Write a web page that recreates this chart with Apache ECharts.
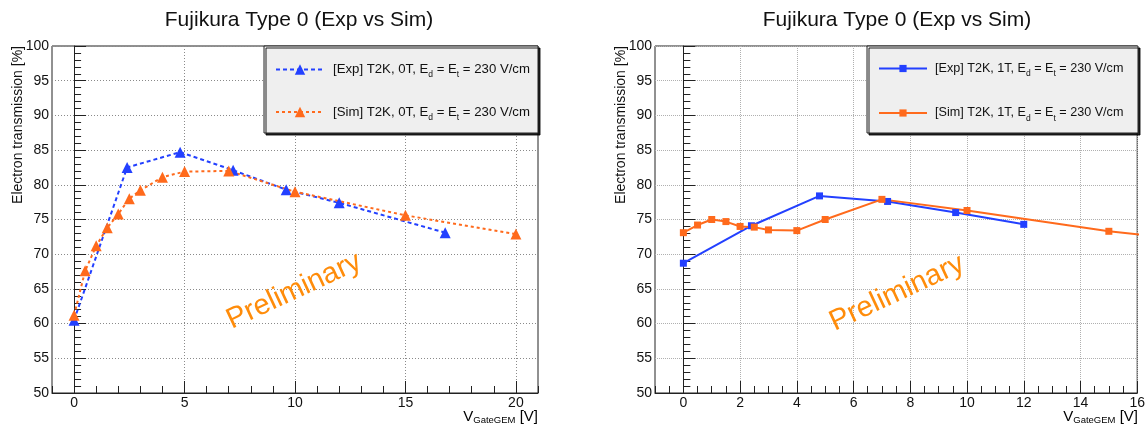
<!DOCTYPE html>
<html>
<head>
<meta charset="utf-8">
<script src="https://cdn.jsdelivr.net/npm/echarts@6/dist/echarts.min.js"></script>
<style>html,body{margin:0;padding:0;background:#fff}#c{width:1148px;height:425px}</style>
</head>
<body>
<div id="c"></div>
<script>
// ---- data ----
const titleText = 'Fujikura Type 0 (Exp vs Sim)';
const leftExpName = '[Exp] T2K, 0T, E_d = E_t = 230 V/cm';
const leftSimName = '[Sim] T2K, 0T, E_d = E_t = 230 V/cm';
const rightExpName = '[Exp] T2K, 1T, E_d = E_t = 230 V/cm';
const rightSimName = '[Sim] T2K, 1T, E_d = E_t = 230 V/cm';

const leftExpX = [0, 2.4, 4.8, 7.2, 9.6, 12, 16.8];
const leftExpY = [60.5, 82.5, 84.7, 82.1, 79.3, 77.4, 73.1];
const leftSimX = [0, 0.5, 1, 1.5, 2, 2.5, 3, 4, 5, 7, 10, 15, 20];
const leftSimY = [61.2, 67.6, 71.2, 73.8, 75.8, 78.0, 79.2, 81.1, 81.9, 82.0, 79.0, 75.6, 72.9];

const rightExpX = [0, 2.4, 4.8, 7.2, 9.6, 12];
const rightExpY = [68.7, 74.1, 78.4, 77.6, 76.0, 74.3];
const rightSimX = [0, 0.5, 1, 1.5, 2, 2.5, 3, 4, 5, 7, 10, 15, 20];
const rightSimY = [73.1, 74.2, 75.0, 74.7, 74.0, 73.9, 73.5, 73.4, 75.0, 77.9, 76.3, 73.3, 71.1];

const leftMajorX = [0, 5, 10, 15, 20];
const rightMajorX = [0, 2, 4, 6, 8, 10, 12, 14, 16];
const yMin = 50, yMax = 100, yStep = 5;
const leftXRange = [-1, 21];
const rightXRange = [-1, 16];

// ---- styling ----
const FONT = '"Liberation Sans", Arial, Helvetica, sans-serif';
const BLUE = '#2340ff';
const ORANGE = '#ff6a1c';
const PRELIM = '#ff8c0a';

function pairs(xs, ys) { return xs.map((x, i) => [x, ys[i]]); }

function legendFmt(name) {
  const parts = name.split('E_d = E_t');
  return '{a|' + parts[0] + 'E}{s|d}{a| = E}{s|t}{a|' + parts[1] + '}';
}
function legendRich(size) {
  return {
    a: { fontSize: size, color: '#111', fontFamily: FONT, lineHeight: 20 },
    s: { fontSize: 8.5, color: '#111', fontFamily: FONT, lineHeight: 20, verticalAlign: 'bottom' }
  };
}

function dataAxis(gridIndex, range, interval) {
  return {
    type: 'value', gridIndex, min: range[0], max: range[1], interval,
    position: 'bottom',
    axisLine: { show: true, lineStyle: { color: '#222', width: 1 } },
    axisTick: { show: true, inside: true, length: 7, lineStyle: { color: '#222' } },
    axisLabel: { show: false },
    splitLine: { show: false }
  };
}
function majorAxis(gridIndex, range, majors, gridColor, dash) {
  return {
    type: 'value', gridIndex, min: range[0], max: range[1], interval: 1,
    position: 'bottom',
    axisLine: { show: false },
    axisTick: { show: true, inside: true, length: 12, customValues: majors, lineStyle: { color: '#222' } },
    axisLabel: { show: true, customValues: majors, margin: 3, fontSize: 14, color: '#111', fontFamily: FONT },
    splitLine: { show: true, lineStyle: { color: gridColor, type: dash, width: 1 } }
  };
}
function yAxis(gridIndex, gridColor, dash) {
  return {
    type: 'value', gridIndex, min: yMin, max: yMax, interval: yStep,
    axisLine: { show: true, lineStyle: { color: '#222', width: 1 } },
    axisTick: { show: true, inside: true, length: 12, lineStyle: { color: '#222' } },
    minorTick: { show: true, splitNumber: 5, length: 7, lineStyle: { color: '#222' } },
    axisLabel: { margin: 3, fontSize: 14, color: '#111', fontFamily: FONT },
    splitLine: { show: true, lineStyle: { color: gridColor, type: dash, width: 1 } }
  };
}
function xTitle(x) {
  return { type: 'text', x: x, y: 408,
    style: { text: '{v|V}{s|GateGEM}{v| [V]}', align: 'right', verticalAlign: 'top',
      rich: { v: { fontSize: 15, fontFamily: FONT, color: '#111', lineHeight: 17 },
              s: { fontSize: 9.5, fontFamily: FONT, color: '#111', lineHeight: 17, verticalAlign: 'bottom' } } } };
}

const chart = echarts.init(document.getElementById('c'), null, { renderer: 'canvas' });
chart.setOption({
  animation: false,
  backgroundColor: '#fff',
  textStyle: { fontFamily: FONT },
  title: [
    { text: titleText, left: 294, top: 5, textAlign: 'center',
      textStyle: { fontSize: 21, fontWeight: 'normal', color: '#111', fontFamily: FONT } },
    { text: titleText, left: 892, top: 5, textAlign: 'center',
      textStyle: { fontSize: 21, fontWeight: 'normal', color: '#111', fontFamily: FONT } }
  ],
  grid: [
    { left: 52, top: 46, width: 486, height: 347, show: true, borderColor: '#222', borderWidth: 1, backgroundColor: 'transparent' },
    { left: 655, top: 46, width: 483, height: 347, show: true, borderColor: '#222', borderWidth: 1, backgroundColor: 'transparent' }
  ],
  xAxis: [
    dataAxis(0, leftXRange, 1),
    majorAxis(0, leftXRange, leftMajorX, '#8a8a8a', [1, 2]),
    dataAxis(1, rightXRange, 0.5),
    majorAxis(1, rightXRange, rightMajorX, '#b0b0b0', [1, 1])
  ],
  yAxis: [
    yAxis(0, '#8a8a8a', [1, 2]),
    yAxis(1, '#b0b0b0', [1, 1])
  ],
  legend: [
    { data: [leftExpName, leftSimName], orient: 'vertical', left: 270, top: 58,
      itemWidth: 48, itemHeight: 13, itemGap: 26, z: 10, formatter: legendFmt,
      textStyle: { rich: legendRich(13.2), padding: [0, 0, 0, 4] } },
    { data: [rightExpName, rightSimName], orient: 'vertical', left: 873, top: 57,
      itemWidth: 48, itemHeight: 9, itemGap: 28, z: 10, formatter: legendFmt,
      textStyle: { rich: legendRich(12.6), padding: [0, 0, 0, 3] } }
  ],
  graphic: [
    { type: 'rect', z: 5, shape: { x: 264, y: 46, width: 274, height: 87 },
      style: { fill: '#efefef', stroke: '#222', lineWidth: 1, shadowColor: 'rgba(0,0,0,0.85)', shadowOffsetX: 2, shadowOffsetY: 2, shadowBlur: 0 } },
    { type: 'rect', z: 5, shape: { x: 867, y: 46, width: 271, height: 87 },
      style: { fill: '#efefef', stroke: '#222', lineWidth: 1, shadowColor: 'rgba(0,0,0,0.85)', shadowOffsetX: 2, shadowOffsetY: 2, shadowBlur: 0 } },
    { type: 'text', z: 1, x: 294, y: 291, rotation: 25 * Math.PI / 180,
      style: { text: 'Preliminary', fontSize: 29, fontFamily: FONT, fill: PRELIM, align: 'center', verticalAlign: 'middle' } },
    { type: 'text', z: 1, x: 897, y: 293, rotation: 25 * Math.PI / 180,
      style: { text: 'Preliminary', fontSize: 29, fontFamily: FONT, fill: PRELIM, align: 'center', verticalAlign: 'middle' } },
    { type: 'text', x: 18, y: 46, rotation: Math.PI / 2,
      style: { text: 'Electron transmission [%]', fontSize: 14, fontFamily: FONT, fill: '#111', align: 'right', verticalAlign: 'middle' } },
    { type: 'text', x: 621, y: 46, rotation: Math.PI / 2,
      style: { text: 'Electron transmission [%]', fontSize: 14, fontFamily: FONT, fill: '#111', align: 'right', verticalAlign: 'middle' } },
    xTitle(538),
    xTitle(1138)
  ],
  series: [
    { name: leftExpName, type: 'line', xAxisIndex: 0, yAxisIndex: 0, data: pairs(leftExpX, leftExpY),
      symbol: 'triangle', symbolSize: 11, color: BLUE,
      lineStyle: { color: BLUE, width: 2, type: [4, 3] }, itemStyle: { color: BLUE } },
    { name: leftSimName, type: 'line', xAxisIndex: 0, yAxisIndex: 0, data: pairs(leftSimX, leftSimY),
      symbol: 'triangle', symbolSize: 11, color: ORANGE,
      lineStyle: { color: ORANGE, width: 2, type: [3, 3] }, itemStyle: { color: ORANGE } },
    { name: rightExpName, type: 'line', xAxisIndex: 2, yAxisIndex: 1, data: pairs(rightExpX, rightExpY),
      symbol: 'rect', symbolSize: 7, color: BLUE, clip: true,
      lineStyle: { color: BLUE, width: 2 }, itemStyle: { color: BLUE } },
    { name: rightSimName, type: 'line', xAxisIndex: 2, yAxisIndex: 1, data: pairs(rightSimX, rightSimY),
      symbol: 'rect', symbolSize: 7, color: ORANGE, clip: true,
      lineStyle: { color: ORANGE, width: 2 }, itemStyle: { color: ORANGE } }
  ]
});
</script>
</body>
</html>
